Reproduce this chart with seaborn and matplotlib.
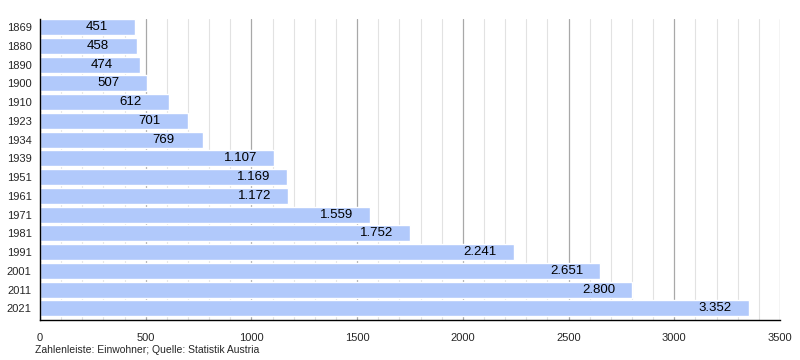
import matplotlib
matplotlib.use("Agg")
import matplotlib.pyplot as plt
import seaborn as sns
import pandas as pd
from matplotlib.ticker import MultipleLocator

years = ["1869", "1880", "1890", "1900", "1910", "1923", "1934", "1939",
         "1951", "1961", "1971", "1981", "1991", "2001", "2011", "2021"]
population = [451, 458, 474, 507, 612, 701, 769, 1107,
              1169, 1172, 1559, 1752, 2241, 2651, 2800, 3352]
value_labels = ["451", "458", "474", "507", "612", "701", "769", "1.107",
                "1.169", "1.172", "1.559", "1.752", "2.241", "2.651", "2.800", "3.352"]
caption = "Zahlenleiste: Einwohner; Quelle: Statistik Austria"

sns.set_style("white")
plt.rcParams['font.family'] = ['Liberation Sans', 'DejaVu Sans']

df = pd.DataFrame({"Jahr": years, "Einwohner": population})

fig = plt.figure(figsize=(8, 3.6), dpi=100)
ax = fig.add_axes([0.05, 0.111, 0.925, 0.836])

bar_h = 0.85
sns.barplot(data=df, x="Einwohner", y="Jahr", orient="h", color="#b1c9fb",
            saturation=1, width=bar_h, ax=ax, zorder=2)

ax.set_xlim(0, 3500)
ax.set_ylim(len(years) - 1 + bar_h / 2 + 0.2, -bar_h / 2)

ax.xaxis.set_major_locator(MultipleLocator(500))
ax.xaxis.set_minor_locator(MultipleLocator(100))
ax.grid(which="major", axis="x", color="#a8a8a8", linewidth=0.9, zorder=0)
ax.grid(which="minor", axis="x", color="#e2e2e2", linewidth=0.8, zorder=0)
ax.grid(axis="y", visible=False)
ax.set_axisbelow(True)

for s in ["top", "right"]:
    ax.spines[s].set_visible(False)
for s in ["left", "bottom"]:
    ax.spines[s].set_color("black")
    ax.spines[s].set_linewidth(1.0)

ax.tick_params(axis="x", which="major", direction="out", length=5, width=0.8,
               color="black", labelsize=8, pad=4)
ax.tick_params(axis="x", which="minor", direction="out", length=3, width=0.6,
               color="black")
ax.tick_params(axis="y", which="both", length=0, labelsize=8, pad=6)
ax.set_xlabel("")
ax.set_ylabel("")

for i, (v, lab) in enumerate(zip(population, value_labels)):
    ax.annotate(lab, xy=(v, i), xytext=(-36, 0), textcoords="offset points",
                ha="left", va="center", fontsize=9.5, color="black", zorder=3)

fig.text(35 / 800, 1 - 350 / 360, caption, fontsize=7.5, ha="left", va="center")

fig.savefig("out.png", dpi=100)
